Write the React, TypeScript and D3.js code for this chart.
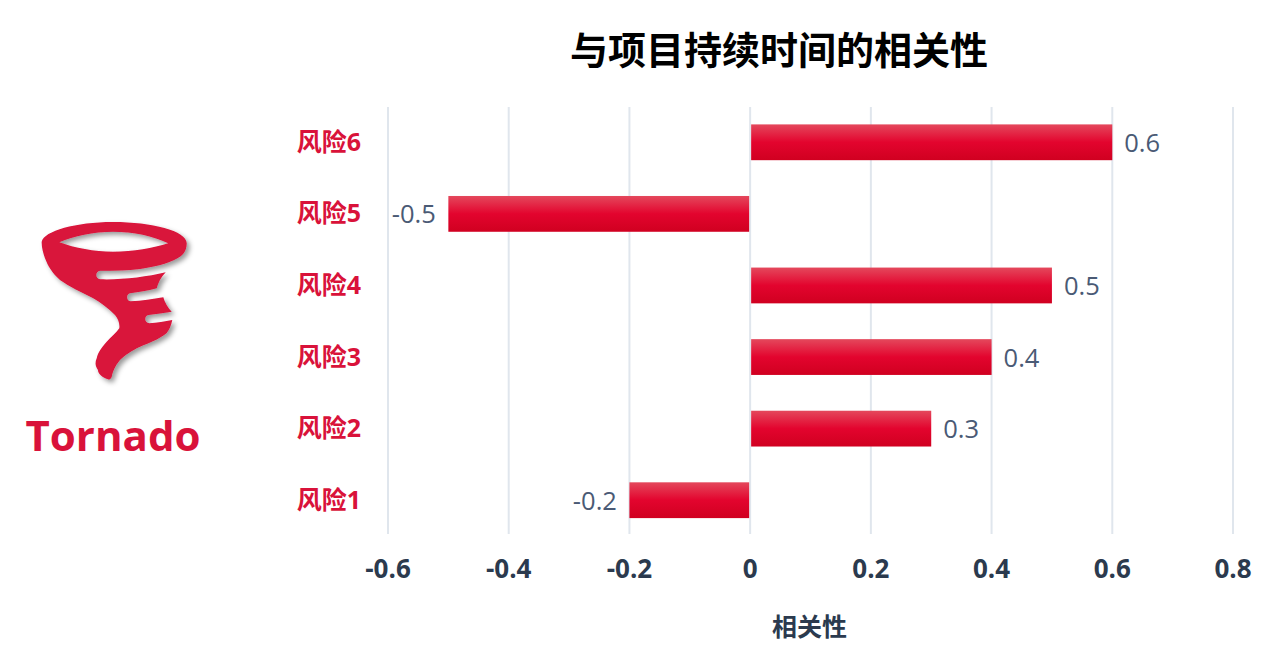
import React from "react";
import * as d3 from "d3";

const categories = ["风险1", "风险2", "风险3", "风险4", "风险5", "风险6"];
const values = [-0.2, 0.3, 0.4, 0.5, -0.5, 0.6];
const xTicks = [-0.6, -0.4, -0.2, 0, 0.2, 0.4, 0.6, 0.8];
const title = "与项目持续时间的相关性";
const xTitle = "相关性";
const logoText = "Tornado";

const FONT = '"Open Sans", "Noto Sans CJK SC", sans-serif';

const logoPath =
  "M41.7 241.7 C44 231 76 222 113 222 C152 222 187 231 186.7 243.3 C186.5 250 184 254 181 256 C172 262 160 266 140 269 C127 270.5 113 270.7 100 270.7 C95 271 95 279 100 279.3 C122 280 146 277 165.7 272.3 C161 277 158 283 156.7 288.3 C147 291 139 292 130 293.3 C126 294 126 301 130.7 301.3 C142 301 153 299 163.3 297.3 C165 303 168 308 171.7 311.7 C164 313 156 314 148.3 315 C144 316 144 323 149.3 323.3 C157 323 165 321 172.3 320 C171 326 169 330 166.7 333 C158 340 149 343 140 346.7 C131 351 125 355 120 360 C115 366 113 371 111.7 376.7 C111 379 109 380 108 379.3 C102 377 98 374 98 370 C95 366 95 362 96.7 358.3 C98 352 102 347 106.7 341.7 C111 337 116 333 119.3 328.3 C120 323 118 319 115 315 C108 308 101 303 93.3 298.3 C81 292 70 287 60 280 C52 273 48 266 45 258.3 C43 252 41.5 247 41.7 241.7 Z " +
  "M59.3 242.3 C75 248 94 251.7 113 251.7 C134 251.7 153 248 168.3 243.3 C153 236 134 231.7 113 231.7 C93 231.7 74 236 59.3 242.3 Z";

export default function App() {
  const x = d3.scaleLinear().domain([-0.6, 0.8]).range([388, 1233]);
  const y = d3.scaleBand().domain([...categories].reverse()).range([106.5, 536]).paddingInner(0.5).paddingOuter(0.25);
  const fmt = (v: number) => String(v);
  return (
    <svg width={1274} height={661} style={{ position: "absolute", left: 0, top: 0, fontFamily: FONT }}>
      <defs>
        <linearGradient id="bar" x1="0" y1="0" x2="0" y2="1">
          <stop offset="0" stopColor="#e4485c" />
          <stop offset="0.5" stopColor="#e3042e" />
          <stop offset="1" stopColor="#d00020" />
        </linearGradient>
        <filter id="shadow" x="-20%" y="-20%" width="140%" height="140%">
          <feDropShadow dx="3" dy="3" stdDeviation="2.5" floodColor="#000" floodOpacity="0.4" />
        </filter>
      </defs>

      <text x={779} y={64} textAnchor="middle" fontSize={38} fontWeight={700} fill="#000">{title}</text>

      {xTicks.map((t) => (
        <line key={t} x1={x(t)} x2={x(t)} y1={107} y2={534} stroke="#e0e6ed" strokeWidth={2} />
      ))}

      {categories.map((c, i) => {
        const v = values[i];
        const x0 = x(0);
        const xv = x(v);
        const bx = v >= 0 ? x0 + 1 : xv;
        const bw = Math.abs(xv - x0) - 1;
        const by = y(c)!;
        const cy = by + y.bandwidth() / 2;
        return (
          <g key={c}>
            <rect x={bx} y={by} width={bw} height={y.bandwidth()} fill="url(#bar)" />
            <text x={v >= 0 ? xv + 12 : xv - 12.5} y={cy + 9.5} textAnchor={v >= 0 ? "start" : "end"} fontSize={25.5} fill="#4a5a75">{fmt(v)}</text>
            <text x={361} y={cy + 8.5} textAnchor="end" fontSize={25} fontWeight={700} fill="#d9123a">{c}</text>
          </g>
        );
      })}

      {xTicks.map((t) => (
        <text key={t} x={x(t)} y={578} textAnchor="middle" fontSize={26} fontWeight={700} fill="#2b3a4e">{fmt(t)}</text>
      ))}

      <text x={809.5} y={636} textAnchor="middle" fontSize={25} fontWeight={700} fill="#2b3a4e">{xTitle}</text>

      <path d={logoPath} fill="#d9123a" fillRule="evenodd" filter="url(#shadow)" />
      <text x={113} y={451} textAnchor="middle" fontSize={42} fontWeight={700} fill="#d9123a">{logoText}</text>
    </svg>
  );
}
